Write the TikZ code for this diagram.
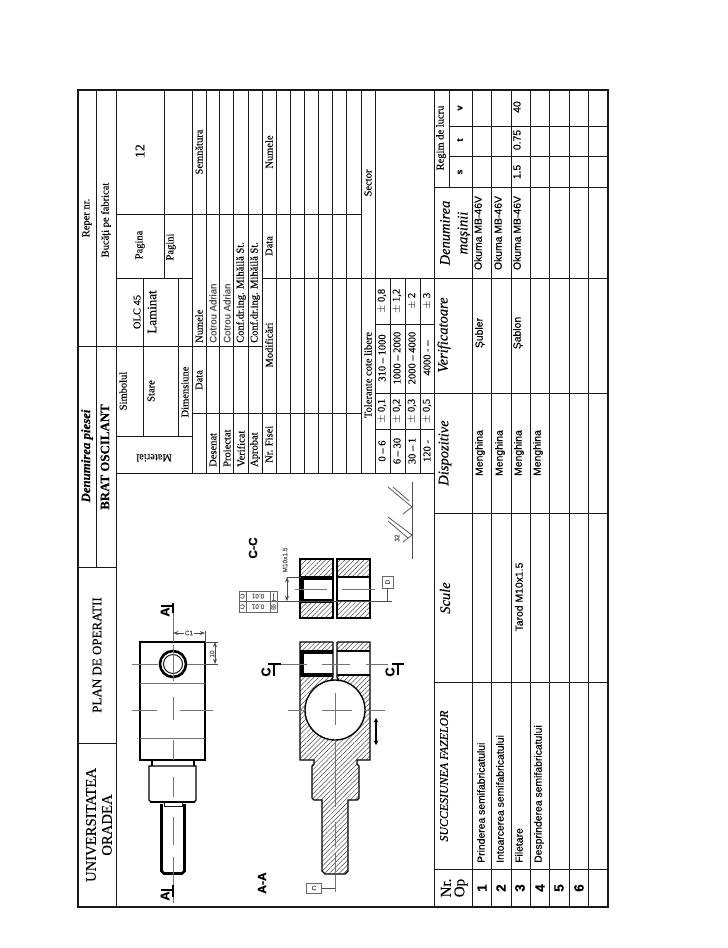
\documentclass[tikz,border=0pt]{standalone}
\usepackage{fontspec}
\setmainfont[FakeBold=0.2]{Liberation Serif}
\setsansfont[FakeBold=0.35]{Liberation Sans}
\usetikzlibrary{patterns.meta,arrows.meta}
\begin{document}
\begin{tikzpicture}[x=1pt,y=-1pt]
	\tikzstyle{rule}=[draw=black!90, line width=1pt]
	\tikzstyle{contour}=[draw=black, line width=1.4pt]
	\tikzstyle{heavy}=[draw=black, line width=2.6pt]
	\tikzstyle{axisline}=[draw=black!55, line width=0.5pt]
	\tikzstyle{dimline}=[draw=black!70, line width=0.5pt]
	\tikzstyle{hatched}=[pattern={Lines[angle=45,distance=3.4pt,line width=0.5pt]}, pattern color=black!70]
	\tikzstyle{serif}=[inner sep=0pt, rotate=90, text=black, font=\fontsize{10.5}{12}\selectfont]
	\tikzstyle{sans}=[inner sep=0pt, rotate=90, text=black, font=\sffamily\fontsize{10.4}{12}\selectfont]
	\tikzstyle{thin sans}=[inner sep=0pt, rotate=90, text=black!70, font=\sffamily\fontsize{9.6}{12}\selectfont]
	\tikzstyle{numhead}=[inner sep=0pt, rotate=90, text=black, font=\fontsize{15}{16}\selectfont]
	\tikzstyle{colhead}=[inner sep=0pt, rotate=90, text=black, font=\itshape\fontsize{14.5}{16}\selectfont]
	\tikzstyle{small}=[inner sep=0pt, text=black!65, font=\sffamily\fontsize{6.5}{7}\selectfont]
	\tikzstyle{secmark}=[inner sep=0pt, rotate=90, font=\sffamily\bfseries\fontsize{13}{14}\selectfont]
	\useasboundingbox (0,0) rectangle (728,948);

	% outer frame and title block
	\draw [rule, line width=1.2pt] (78,90) rectangle (608,907);
	\draw [rule] (96,90) -- (96,567);
	\draw [rule] (116,90) -- (116,907);
	\draw [rule] (78,346) -- (262,346);
	\draw [rule] (78,567) -- (116,567);
	\draw [rule] (78,743) -- (116,743);

	% material block
	\draw [rule] (116,214) -- (361,214);
	\draw [rule] (116,278) -- (192,278);
	\draw [rule] (116,436) -- (192,436);
	\draw [rule] (116,473) -- (434,473);
	\draw [rule] (143,278) -- (143,436);
	\draw [rule] (178,278) -- (178,436);
	\draw [rule] (164,90) -- (164,278);
	\draw [rule] (192,90) -- (192,473);

	% rows of the signature block
	\foreach \x in {206,219,233,248,262,276,290,304,318,332,346,361,375}
		\draw [rule] (\x,90) -- (\x,473);
	\draw [rule] (262,278) -- (608,278);
	\draw [rule] (192,413) -- (361,413);

	% tolerances
	\foreach \x in {390,405,420}
		\draw [rule] (\x,278) -- (\x,473);
	\draw [rule] (375,324) -- (434,324);
	\draw [rule] (375,393) -- (608,393);
	\draw [rule] (375,429) -- (434,429);

	% table of phases
	\draw [rule] (434,90) -- (434,907);
	\draw [rule] (449,90) -- (449,187);
	\foreach \x in {472,491,511,530,549,569,588}
		\draw [rule] (\x,90) -- (\x,907);
	\foreach \y in {126,156}
		\draw [rule] (449,\y) -- (608,\y);
	\foreach \y in {187,513,682,869}
		\draw [rule] (434,\y) -- (608,\y);

	% title block texts
	\node [serif] (reper) at (87,218) {Reper nr.};
	\node [serif] (bucati) at (106,220) {Bucăți pe fabricat};
	\node [serif, font=\itshape\bfseries\fontsize{12.8}{14}\selectfont] (denumire) at (87,456) {Denumirea piesei};
	\node [serif, font=\bfseries\fontsize{12.9}{14}\selectfont] (brat) at (105,457) {BRAT OSCILANT};
	\node [serif, font=\fontsize{13}{14}\selectfont] (plan) at (97,655) {PLAN DE OPERATII};
	\node [serif, font=\fontsize{14.7}{16}\selectfont] (univ) at (91,825) {UNIVERSITATEA};
	\node [serif, font=\fontsize{14.7}{16}\selectfont] (oradea) at (107,825) {ORADEA};
	\node [serif, font=\fontsize{13.5}{14}\selectfont] (nr12) at (140,151) {12};
	\node [serif] (pagina) at (140,245) {Pagina};
	\node [serif] (pagini) at (171,247) {Pagini};
	\node [serif] (olc) at (137,312) {OLC 45};
	\node [serif, font=\fontsize{13}{14}\selectfont] (laminat) at (152,312) {Laminat};
	\node [serif] (simbol) at (123,391) {Simbolul};
	\node [serif] (stare) at (151,391) {Stare};
	\node [serif] (dimens) at (185,392) {Dimensiune};
	\node [serif, rotate=90] (material) at (154,458) {Material};

	% signature block texts
	\node [serif] (semn) at (199,152) {Semnătura};
	\node [serif, anchor=west] (numele) at (199,343) {Numele};
	\node [serif] (data) at (199,380) {Data};
	\node [thin sans, anchor=west] (cotrou1) at (213,343) {Cotrou Adrian};
	\node [thin sans, anchor=west] (cotrou2) at (227,343) {Cotrou Adrian};
	\node [serif, anchor=west] (conf1) at (241,343) {Conf.dr.ing. Mihăilă St.};
	\node [serif, anchor=west] (conf2) at (255,343) {Conf.dr.ing. Mihăilă St.};
	\node [serif, anchor=west] (desenat) at (213,467) {Desenat};
	\node [serif, anchor=west] (proiectat) at (227,467) {Proiectat};
	\node [serif, anchor=west] (verificat) at (241,467) {Verificat};
	\node [serif, anchor=west] (aprobat) at (255,467) {Aprobat};
	\node [serif, anchor=west] (fisei) at (269,463) {Nr. Fisei};
	\node [serif] (numele2) at (269,152) {Numele};
	\node [serif] (data2) at (269,246) {Data};
	\node [serif] (modif) at (269,345) {Modificări};
	\node [serif] (sector) at (368,183) {Sector};

	% tolerance texts
	\node [serif] (toler) at (368,375) {Tolerante cote libere};
	\foreach \n/\x/\a/\b/\c/\d in {1/382/{0 -- 6}/{$\pm$ 0,1}/{310 -- 1000}/{$\pm$ 0,8}, 2/397/{6 -- 30}/{$\pm$ 0,2}/{1000 -- 2000}/{$\pm$ 1,2}, 3/412/{30 -- 1}/{$\pm$ 0,3}/{2000 -- 4000}/{$\pm$ 2}, 4/427/{120 -}/{$\pm$ 0,5}/{4000 - --}/{$\pm$ 3}}{
		\node [serif] (tola\n) at (\x,451) {\a};
		\node [serif] (tolb\n) at (\x,411) {\b};
		\node [serif] (tolc\n) at (\x,358) {\c};
		\node [serif] (told\n) at (\x,301) {\d};
	}

	% column heads
	\node [colhead] (succes) at (444,776) {\fontsize{11.9}{14}\selectfont SUCCESIUNEA FAZELOR};
	\node [colhead] (scule) at (445,598) {Scule};
	\node [colhead] (dispoz) at (445,453) {Dispozitive};
	\node [colhead] (verif) at (444,335) {Verificatoare};
	\node [colhead] (denum) at (445,233) {Denumirea};
	\node [colhead] (masinii) at (464,233) {mașinii};
	\node [serif] (regim) at (441,138) {Regim de lucru};
	\node [numhead] (nrop) at (446,888) {Nr.};
	\node [numhead] (op) at (461,888) {Op};
	\node [sans, font=\sffamily\bfseries\fontsize{9}{10}\selectfont] (sreg) at (460,172) {s};
	\node [sans, font=\sffamily\bfseries\fontsize{9}{10}\selectfont] (treg) at (460,140) {t};
	\node [sans, font=\sffamily\bfseries\fontsize{9}{10}\selectfont] (vreg) at (460,108) {v};

	% rows of phases
	\foreach \n/\x in {1/482,2/501,3/520,4/540,5/559,6/579}
		\node [sans, font=\sffamily\bfseries\fontsize{13.5}{14}\selectfont] (op\n) at (\x,888) {\n};
	\node [sans, anchor=west] (faza1) at (481,863) {Prinderea semifabricatului};
	\node [sans, anchor=west] (faza2) at (500,863) {Intoarcerea semifabricatului};
	\node [sans, anchor=west] (faza3) at (519,863) {Filetare};
	\node [sans, anchor=west] (faza4) at (539,863) {Desprinderea semifabricatului};
	\node [sans] (tarod) at (519,597) {Tarod M10x1.5};
	\node [sans] (dis1) at (480,453) {Menghina};
	\node [sans] (dis2) at (500,453) {Menghina};
	\node [sans] (dis3) at (519,453) {Menghina};
	\node [sans] (dis4) at (538,453) {Menghina};
	\node [sans] (subler) at (480,333) {Șubler};
	\node [sans] (sablon) at (518,333) {Șablon};
	\node [sans] (mas1) at (478,233) {Okuma MB-46V};
	\node [sans] (mas2) at (498,233) {Okuma MB-46V};
	\node [sans] (mas3) at (517,233) {Okuma MB-46V};
	\node [sans] (sval) at (517,172) {1.5};
	\node [sans] (tval) at (517,140) {0.75};
	\node [sans] (vval) at (517,107) {40};

	% outside view
	\draw [contour] (140,642) rectangle (205,760);
	\draw [contour] (152,760) -- (152,766);
	\draw [contour] (194,760) -- (194,766);
	\draw [contour] (149,766) -- (196,766) -- (196,800) -- (194,802) -- (151,802) -- (149,800) -- cycle;
	\draw [heavy] (150,802) -- (195,802);
	\draw [rule] (164,802) -- (164,806) -- (182,806) -- (182,802);
	\draw [heavy] (161.5,804) -- (161.5,871) -- (164,873.5) -- (182,873.5) -- (184.5,871) -- (184.5,804);
	\draw [axisline] (140,683) -- (205,683);
	\draw [axisline] (140,738) -- (205,738);
	\draw [contour, line width=2.6pt] (173,664) circle (13pt);
	\draw [rule] (173,664) circle (9.5pt);
	\draw [axisline] (132,664) -- (158,664);
	\draw [axisline] (187,664) -- (205,664);
	\draw [axisline, line width=0.8pt] (132,710) -- (157,710);
	\draw [axisline, line width=0.8pt] (180,710) -- (213,710);
	\draw [axisline] (173,603) -- (173,642);
	\foreach \a/\b in {645/681,697/720,740/760,777/797,817/845,857/903}
		\draw [axisline] (173,\a) -- (173,\b);

	% dimensions of the outside view
	\draw [dimline] (205,642) -- (218,642);
	\draw [dimline] (205,664) -- (218,664);
	\draw [dimline, <->, >=Stealth] (215,642) -- (215,664);
	\node [small, rotate=90, fill=white] (dim10) at (212,654) {10};
	\draw [dimline] (205,631) -- (205,642);
	\draw [dimline, <->, >=Stealth] (173,633) -- (205,633);
	\node [small, fill=white, inner sep=1pt] (dimc1) at (189,633) {C1};

	% section marks A
	\draw [line width=2.6pt] (173,603) -- (173,613);
	\draw [line width=2.2pt] (161,606) -- (173,606);
	\node [secmark] (marka1) at (165,612) {A};
	\draw [line width=2.6pt] (173,885) -- (173,897);
	\draw [line width=2.2pt] (161,890) -- (173,890);
	\node [secmark] (marka2) at (165,896) {A};
	\node [secmark, font=\sffamily\bfseries\fontsize{12}{12}\selectfont] (marka) at (262,883) {A-A};
	\node [secmark, font=\sffamily\bfseries\fontsize{12}{12}\selectfont] (markc) at (253,548) {C-C};

	% section A-A
	\path [hatched] (300,642) -- (370,642) -- (370,760) -- (357,760) -- (357,764) -- (359,766) -- (359,798) -- (357,800) -- (348,800) -- (348,871) -- (345,874) -- (325,874) -- (322,871) -- (322,800) -- (314,800) -- (312,798) -- (312,766) -- (314,764) -- (314,760) -- (300,760) -- cycle;
	\fill [white] (299,652) rectangle (371,675);
	\fill [white] (333,640) rectangle (337,682);
	\draw [contour, fill=white] (335,710) circle (30pt);
	\draw [contour] (333,642) -- (300,642) -- (300,760) -- (314,760) -- (314,764) -- (312,766) -- (312,798) -- (314,800) -- (322,800) -- (322,871) -- (325,874) -- (345,874) -- (348,871) -- (348,800) -- (357,800) -- (359,798) -- (359,766) -- (357,764) -- (357,760) -- (370,760) -- (370,642) -- (337,642);
	\draw [contour] (333,642) -- (333,677) -- (331,681);
	\draw [contour] (337,642) -- (337,677) -- (339,681);
	\draw [line width=3.4pt] (300,652) -- (333,652);
	\draw [line width=3.4pt] (300,675) -- (333,675);
	\draw [line width=3.4pt] (302,652) -- (302,675);
	\draw [contour] (337,651) -- (370,651);
	\draw [contour] (337,675) -- (370,675);
	\foreach \a/\b in {278/307,322/350,366/388}
		\draw [axisline, line width=0.8pt] (\a,664) -- (\b,664);
	\foreach \a/\b in {288/305,322/352,365/385}
		\draw [axisline, line width=0.8pt] (\a,710) -- (\b,710);
	\foreach \a/\b in {693/725,740/807,822/847,853/872,875/892}
		\draw [axisline, line width=0.8pt] (335,\a) -- (335,\b);
	\draw [dimline] (307,888) -- (335,888);
	\node [small, draw=black!60, minimum width=15pt, minimum height=10pt, fill=white] (datumc) at (314,888) {C};

	% section marks C
	\draw [line width=2.8pt] (274,664) -- (274,676);
	\draw [line width=2pt] (268,664) -- (281,664);
	\node [secmark] (markc1) at (266,672) {C};
	\draw [line width=2.8pt] (398,664) -- (398,675);
	\draw [line width=2pt] (392,664) -- (404,664);
	\node [secmark] (markc2) at (390,672) {C};

	% moving direction
	\draw [line width=1.8pt, <->, >={Stealth[length=4.5pt,width=4.5pt]}] (376,718) -- (376,745);

	% section C-C
	\path [hatched, contour, line width=1.6pt] (300,559) rectangle (333,618);
	\path [hatched, contour, line width=1.6pt] (337,559) rectangle (370,618);
	\fill [white] (301,578) rectangle (332,601);
	\fill [white] (338,578) rectangle (369,601);
	\draw [line width=3.4pt] (300,578) -- (333,578);
	\draw [line width=3.4pt] (300,601) -- (333,601);
	\draw [line width=3.4pt] (302,578) -- (302,601);
	\draw [contour] (337,577) -- (370,577);
	\draw [contour] (337,601) -- (370,601);
	\draw [axisline, line width=0.8pt] (295,589) -- (327,589);
	\draw [axisline, line width=0.8pt] (342,589) -- (375,589);

	% thread dimension and geometric tolerances
	\draw [dimline] (287,577) -- (301,577);
	\draw [dimline] (277,601) -- (392,601);
	\draw [dimline, <->, >=Stealth] (287,577) -- (287,601);
	\node [small, rotate=90] (thread) at (285,560) {M10x1.5};
	\draw [dimline] (387,589) -- (387,601);
	\node [small, rotate=90, draw=black!60, minimum width=12pt, minimum height=11pt, fill=white] (datumd) at (387.5,582) {D};
	\draw [draw=black!60, line width=0.6pt] (239,591) rectangle (277,612);
	\draw [draw=black!60, line width=0.6pt] (239,601.5) -- (277,601.5);
	\foreach \y/\n in {591/1,601.5/2}{
		\draw [draw=black!60, line width=0.6pt] (246,\y) -- (246,\y+10.5);
		\draw [draw=black!60, line width=0.6pt] (270,\y) -- (270,\y+10.5);
		\node [small, rotate=180] (frame\n) at (258,\y+5.2) {0.01};
		\node [small, rotate=180] (datum\n) at (242.5,\y+5.2) {C};
	}
	\draw [draw=black!60, line width=0.6pt] (273.5,593) -- (273.5,600) (271.5,600) -- (275.5,600);
	\draw [draw=black!60, line width=0.6pt] (273.5,607) circle (2.5pt) (273.5,607) circle (1.2pt);

	% surface finish
	\draw [dimline, line width=0.7pt] (412,482) -- (412,559);
	\draw [dimline, line width=0.7pt] (388,487) -- (412,507) -- (403,514);
	\draw [dimline, line width=0.7pt] (393,487) -- (409,501);
	\draw [dimline, line width=0.7pt] (388,517) -- (412,535) -- (403,542);
	\draw [dimline, line width=0.7pt] (388,521) -- (408,538);
	\node [small, rotate=90] (rough) at (397,538) {32};
\end{tikzpicture}
\end{document}
